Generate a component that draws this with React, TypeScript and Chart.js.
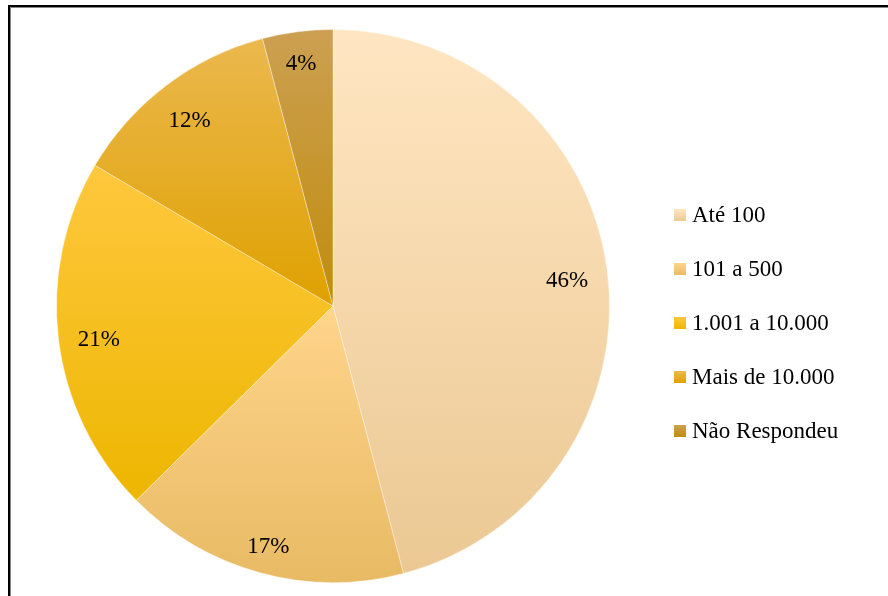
import React, { useEffect, useRef } from "react";
import { Chart, registerables } from "chart.js";

Chart.register(...registerables);

const categories = ["Até 100", "101 a 500", "1.001 a 10.000", "Mais de 10.000", "Não Respondeu"];
const values = [45.9, 16.7, 20.9, 12.4, 4.1];
const topColors = ["#FFE6C2", "#FFD58C", "#FFC83E", "#EBB84E", "#CCA052"];
const bottomColors = ["#EBC893", "#E8BA64", "#EDB600", "#DFA100", "#C08D0C"];

const FONT = "'Liberation Serif', 'Times New Roman', serif";

function sliceGradient(chart: any, index: number) {
  const area = chart.chartArea;
  if (!area) return topColors[index];
  const cx = (area.left + area.right) / 2;
  const cy = (area.top + area.bottom) / 2;
  const r = Math.min(area.right - area.left, area.bottom - area.top) / 2;
  const total = values.reduce((a, b) => a + b, 0);
  let before = 0;
  for (let i = 0; i < index; i++) before += values[i];
  const a0 = -Math.PI / 2 + (before / total) * Math.PI * 2;
  const a1 = -Math.PI / 2 + ((before + values[index]) / total) * Math.PI * 2;
  const ys = [cy, cy + r * Math.sin(a0), cy + r * Math.sin(a1)];
  for (let k = -2; k <= 4; k++) {
    const ang = -Math.PI / 2 + k * Math.PI;
    if (ang > a0 && ang < a1) ys.push(cy + r * Math.sin(ang));
    const ang2 = Math.PI / 2 + k * Math.PI;
    if (ang2 > a0 && ang2 < a1) ys.push(cy + r * Math.sin(ang2));
  }
  const y0 = Math.min(...ys);
  const y1 = Math.max(...ys);
  const g = chart.ctx.createLinearGradient(0, y0, 0, y1 + 0.01);
  g.addColorStop(0, topColors[index]);
  g.addColorStop(1, bottomColors[index]);
  return g;
}

const labelPlugin = {
  id: "sliceLabels",
  afterDatasetsDraw(chart: any) {
    const ctx = chart.ctx;
    const meta = chart.getDatasetMeta(0);
    ctx.save();
    ctx.font = `23px ${FONT}`;
    ctx.fillStyle = "#000";
    ctx.textAlign = "center";
    ctx.textBaseline = "middle";
    meta.data.forEach((el: any, i: number) => {
      const txt = `${Math.round(values[i])}%`;
      const w = ctx.measureText(txt).width;
      const h = 26;
      const mid = (el.startAngle + el.endAngle) / 2;
      const c = Math.cos(mid);
      const s = Math.sin(mid);
      const d = 12 + Math.abs(c) * (w / 2 + 6) + Math.abs(s) * h / 2;
      const dist = el.outerRadius - d;
      ctx.fillText(txt, el.x + c * dist, el.y + s * dist + 5);
    });
    ctx.restore();
  },
};

const legendPlugin = {
  id: "sideLegend",
  afterDraw(chart: any) {
    const ctx = chart.ctx;
    const area = chart.chartArea;
    const x = area.right + 64;
    const startY = 215;
    const step = 54;
    ctx.save();
    ctx.font = `23px ${FONT}`;
    ctx.textAlign = "left";
    ctx.textBaseline = "middle";
    categories.forEach((label, i) => {
      const y = startY + i * step;
      const g = ctx.createLinearGradient(0, y - 6, 0, y + 6);
      g.addColorStop(0, topColors[i]);
      g.addColorStop(1, bottomColors[i]);
      ctx.fillStyle = g;
      ctx.fillRect(x, y - 6, 12, 12);
      ctx.fillStyle = "#000";
      ctx.fillText(label, x + 18, y + 1);
    });
    ctx.restore();
  },
};

export default function App() {
  const ref = useRef<HTMLCanvasElement>(null);
  useEffect(() => {
    if (!ref.current) return;
    const chart = new Chart(ref.current, {
      type: "pie",
      data: {
        labels: categories,
        datasets: [
          {
            data: values,
            backgroundColor: (c: any) => sliceGradient(c.chart, c.dataIndex),
            borderColor: "rgba(255,255,255,0.35)",
            borderWidth: 1,
          },
        ],
      },
      options: {
        responsive: false,
        animation: false,
        layout: { padding: { left: 56, right: 278, top: 29, bottom: 13 } },
        plugins: {
          legend: { display: false },
          tooltip: { enabled: false },
        },
      },
      plugins: [labelPlugin, legendPlugin],
    });
    return () => chart.destroy();
  }, []);
  return (
    <div style={{ position: "fixed", left: 0, top: 0, width: 888, height: 596, background: "#fff", overflow: "hidden" }}>
      <div
        style={{
          position: "absolute",
          left: 8,
          top: 5,
          width: 1000,
          height: 800,
          border: "2px solid #000",
          boxShadow: "inset 1px 1px 0 #888",
        }}
      />
      <canvas ref={ref} width={888} height={596} style={{ position: "absolute", left: 0, top: 0 }} />
    </div>
  );
}
